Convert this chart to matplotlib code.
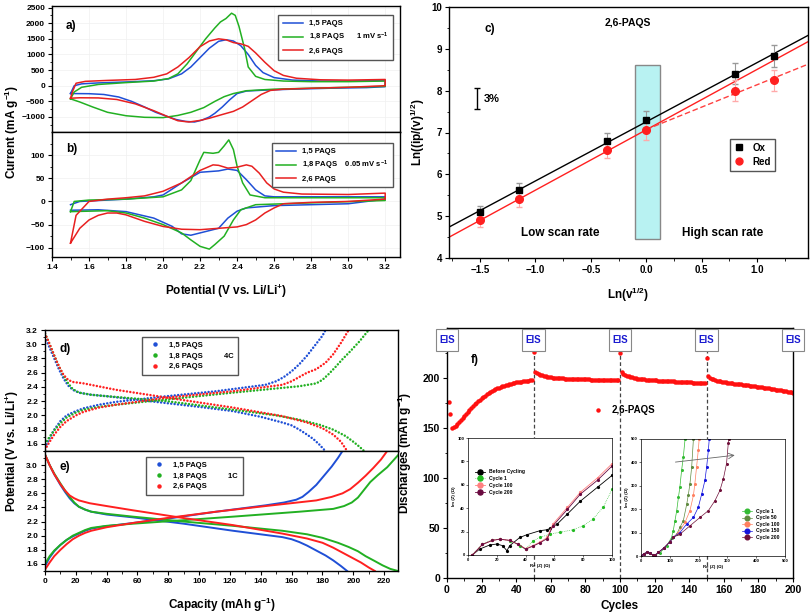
import matplotlib
matplotlib.use("Agg")
import matplotlib.pyplot as plt
import numpy as np
from matplotlib.patches import Rectangle
from matplotlib.lines import Line2D

plt.rcParams['font.family'] = ['Liberation Sans', 'DejaVu Sans']
plt.rcParams['font.weight'] = 'bold'
plt.rcParams['axes.labelweight'] = 'bold'
plt.rcParams['mathtext.fontset'] = 'custom'
plt.rcParams['mathtext.rm'] = 'Liberation Sans:bold'
plt.rcParams['mathtext.bf'] = 'Liberation Sans:bold'
plt.rcParams['mathtext.it'] = 'Liberation Sans:bold:italic'
plt.rcParams['xtick.direction'] = 'out'
plt.rcParams['ytick.direction'] = 'out'

# ---- a) CV 1 mV/s ----
a15_v = [1.50,1.52,1.56,1.65,1.80,1.95,2.03,2.10,2.15,2.20,2.25,2.30,2.34,2.38,2.42,2.46,2.50,2.54,2.60,2.70,2.85,3.00,3.15,3.20,
         3.20,3.10,2.90,2.70,2.55,2.45,2.40,2.36,2.32,2.28,2.25,2.21,2.17,2.12,2.07,2.03,1.96,1.90,1.83,1.76,1.68,1.60,1.50]
a15_i = [-250,0,60,90,120,160,220,380,600,900,1200,1420,1470,1430,1280,1000,650,420,260,180,150,150,160,170,
         -30,-60,-80,-110,-140,-170,-250,-450,-680,-880,-1000,-1100,-1160,-1140,-1080,-1000,-850,-680,-500,-360,-280,-255,-250]
a18_v = [1.50,1.52,1.56,1.65,1.80,1.95,2.03,2.08,2.13,2.18,2.23,2.28,2.31,2.34,2.37,2.39,2.41,2.44,2.46,2.50,2.55,2.65,2.80,3.00,3.20,
         3.20,3.00,2.80,2.60,2.45,2.38,2.33,2.28,2.22,2.15,2.08,2.00,1.90,1.80,1.70,1.62,1.55,1.50]
a18_i = [-420,-200,-50,40,100,150,230,380,700,1100,1500,1850,2040,2150,2320,2250,1900,1200,600,300,200,150,130,130,150,
         -20,-50,-80,-110,-160,-250,-350,-500,-700,-850,-950,-1020,-1010,-960,-850,-680,-520,-420]
a26_v = [1.50,1.51,1.53,1.58,1.70,1.85,1.95,2.02,2.08,2.14,2.20,2.25,2.30,2.34,2.38,2.42,2.46,2.50,2.55,2.60,2.65,2.72,2.85,3.00,3.20,
         3.20,3.00,2.80,2.65,2.58,2.53,2.48,2.43,2.38,2.32,2.25,2.20,2.14,2.08,2.03,1.95,1.85,1.75,1.65,1.55,1.50]
a26_i = [-400,-200,80,140,170,200,270,380,600,900,1250,1430,1500,1470,1380,1340,1260,1050,750,480,330,240,190,180,200,
         0,-50,-80,-110,-150,-280,-480,-680,-820,-920,-1040,-1110,-1160,-1120,-1000,-800,-580,-440,-390,-385,-400]

# ---- b) CV 0.05 mV/s ----
b15_v = [1.50,1.55,1.70,1.80,1.95,2.00,2.10,2.20,2.30,2.35,2.40,2.45,2.50,2.55,2.60,2.80,3.00,3.20,
         3.20,3.00,2.80,2.60,2.45,2.40,2.35,2.30,2.25,2.15,2.10,2.05,1.95,1.80,1.65,1.50]
b15_i = [-7,0,3,5,10,14,40,63,66,70,67,47,25,12,10,10,10,10,
         5,-5,-7,-9,-14,-21,-36,-58,-63,-73,-70,-54,-36,-22,-18,-19]
b18_v = [1.50,1.52,1.60,1.80,2.00,2.10,2.15,2.20,2.22,2.27,2.30,2.33,2.355,2.38,2.40,2.43,2.47,2.55,2.80,3.20,
         3.20,2.80,2.50,2.42,2.38,2.33,2.28,2.25,2.20,2.15,2.10,2.00,1.90,1.80,1.70,1.50]
b18_i = [-22,0,3,5,10,25,45,90,106,104,106,120,133,112,76,40,14,8,8,8,
         2,-3,-7,-18,-40,-75,-93,-103,-97,-83,-68,-50,-36,-25,-20,-22]
b26_v = [1.50,1.53,1.60,1.70,1.80,1.90,2.00,2.10,2.20,2.27,2.30,2.35,2.40,2.45,2.48,2.52,2.56,2.60,2.65,2.75,3.00,3.20,
         3.20,3.00,2.80,2.65,2.60,2.55,2.50,2.45,2.40,2.30,2.20,2.10,2.00,1.90,1.80,1.75,1.70,1.65,1.60,1.55,1.50]
b26_i = [-90,-30,0,5,8,12,22,40,67,79,78,72,74,79,76,61,40,27,20,16,15,18,
         5,0,-2,-5,-14,-25,-40,-50,-55,-58,-61,-60,-54,-43,-29,-25,-25,-30,-40,-58,-90]

# ---- c) ln plot ----
c_x = [-1.5, -1.15, -0.35, 0.0, 0.8, 1.15]
c_ox = [5.1, 5.62, 6.8, 7.3, 8.4, 8.83]
c_ox_err = [0.15, 0.17, 0.2, 0.22, 0.25, 0.27]
c_red = [4.9, 5.4, 6.58, 7.05, 8.0, 8.25]
c_red_err = [0.15, 0.17, 0.2, 0.22, 0.25, 0.25]

# ---- d) 4C charge / discharge ----
d15_dis_c = [0,3,6,9,12,15,18,22,30,40,68,100,122,140,154,160,165,170,174,178,181]
d15_dis_v = [3.10,2.95,2.80,2.65,2.52,2.42,2.36,2.32,2.29,2.27,2.20,2.12,2.06,1.98,1.90,1.86,1.80,1.73,1.67,1.59,1.52]
d15_ch_c = [0,3,6,10,14,20,25,35,46,79,111,143,150,155,160,165,170,175,180,182]
d15_ch_v = [1.55,1.68,1.80,1.92,2.00,2.06,2.10,2.15,2.19,2.27,2.34,2.43,2.48,2.54,2.62,2.72,2.84,2.98,3.12,3.20]
d18_dis_c = [0,3,6,9,12,15,18,22,30,40,79,122,150,165,178,187,195,200,204,207]
d18_dis_v = [3.15,3.00,2.84,2.69,2.56,2.45,2.37,2.32,2.29,2.27,2.20,2.08,2.00,1.94,1.87,1.80,1.71,1.63,1.56,1.50]
d18_ch_c = [0,3,6,10,14,20,25,35,46,68,122,165,176,180,184,188,193,198,204,210]
d18_ch_v = [1.60,1.70,1.79,1.89,1.97,2.04,2.08,2.12,2.15,2.20,2.32,2.41,2.45,2.50,2.58,2.67,2.79,2.90,3.04,3.20]
d26_dis_c = [0,3,6,9,12,15,18,25,46,79,122,154,170,180,187,192,196]
d26_dis_v = [3.15,3.00,2.84,2.69,2.57,2.50,2.47,2.45,2.36,2.25,2.11,1.99,1.90,1.82,1.73,1.63,1.50]
d26_ch_c = [0,3,6,10,14,20,25,35,46,79,122,154,160,165,170,176,182,187,192,197]
d26_ch_v = [1.52,1.63,1.73,1.84,1.92,2.00,2.05,2.11,2.15,2.25,2.34,2.43,2.48,2.54,2.60,2.65,2.74,2.86,3.02,3.20]

# ---- e) 1C charge / discharge ----
e15_dis_c = [0,3,6,10,13,16,19,22,26,30,40,57,90,122,154,160,165,170,176,182,187,192,196]
e15_dis_v = [3.15,3.00,2.87,2.72,2.62,2.53,2.46,2.41,2.37,2.34,2.30,2.26,2.17,2.07,1.98,1.95,1.91,1.86,1.79,1.72,1.65,1.57,1.50]
e15_ch_c = [0,3,6,10,14,18,22,26,30,38,46,79,111,143,155,163,167,171,176,181,186,190,193]
e15_ch_v = [1.57,1.69,1.78,1.87,1.94,1.99,2.03,2.07,2.10,2.13,2.15,2.24,2.34,2.43,2.47,2.51,2.55,2.62,2.72,2.85,2.98,3.10,3.20]
e18_dis_c = [0,3,6,10,13,16,19,22,26,30,40,57,90,122,154,170,180,190,197,203,208,214,219,224,229]
e18_dis_v = [3.15,3.00,2.88,2.74,2.64,2.55,2.47,2.41,2.37,2.34,2.31,2.27,2.20,2.14,2.07,2.02,1.97,1.90,1.84,1.78,1.71,1.64,1.58,1.53,1.50]
e18_ch_c = [0,3,6,10,14,18,22,26,30,40,57,90,122,165,187,194,199,203,207,211,216,222,229]
e18_ch_v = [1.60,1.71,1.79,1.87,1.94,2.00,2.04,2.08,2.11,2.14,2.17,2.22,2.27,2.34,2.38,2.42,2.47,2.54,2.65,2.76,2.86,2.97,3.14]
e26_dis_c = [0,3,6,10,13,16,19,22,29,40,57,90,122,154,170,180,187,193,199,205,210,214]
e26_dis_v = [3.15,3.00,2.87,2.73,2.64,2.57,2.53,2.50,2.46,2.42,2.36,2.25,2.15,2.03,1.96,1.90,1.83,1.76,1.69,1.62,1.55,1.50]
e26_ch_c = [0,3,6,10,14,18,22,26,30,40,57,79,111,143,176,186,193,198,203,208,213,218,222]
e26_ch_v = [1.52,1.62,1.71,1.80,1.88,1.95,2.00,2.04,2.07,2.12,2.18,2.25,2.34,2.42,2.50,2.55,2.60,2.66,2.75,2.85,2.96,3.08,3.20]

# ---- f) cycling ----
f_cycles = list(range(1, 201))
f_dis = [176,164,150,151,152.5,154,156,158,160,162,164.5,166.5,168.5,170.5,172.5,174,175.5,177,178.5,180,
         181.5,182.5,184,185,186,187,188,189,189.8,190.5,191.2,191.8,192.4,193,193.5,194,194.4,194.8,195.2,195.6,
         196,196.2,196.5,196.8,197,197.2,197.4,197.6,197.8,
         226,206.5,205,204,203.2,202.6,202,201.6,201.2,200.9,200.6,
         200.4,200.2,200,199.9,199.8,199.7,199.6,199.5,199.4,199.3,
         199.2,199.1,199,199,198.9,198.9,198.8,198.8,198.7,198.7,
         198.6,198.6,198.5,198.5,198.5,198.4,198.4,198.4,198.3,198.3,
         198.3,198.2,198.2,198.2,198.1,198.1,198.1,198,198,
         225,206,204.5,203.3,202.4,201.7,201.1,200.6,200.2,199.8,199.5,
         199.2,199,198.8,198.6,198.4,198.2,198,197.9,197.8,197.7,
         197.6,197.5,197.4,197.3,197.2,197.1,197,196.9,196.8,196.7,
         196.6,196.5,196.4,196.3,196.2,196.1,196,195.9,195.8,195.7,
         195.6,195.5,195.4,195.3,195.2,195.1,195,194.9,194.8,
         220,202,200.5,199.5,198.7,198,197.5,197,196.6,196.2,195.9,
         195.6,195.3,195,194.8,194.6,194.4,194.2,194,193.8,193.6,
         193.4,193.2,193,192.8,192.5,192.3,192,191.8,191.5,191.3,
         191,190.8,190.5,190.2,190,189.7,189.4,189.1,188.8,188.5,
         188.2,187.9,187.6,187.3,187,186.7,186.4,186.1,185.8,185.5]
eis_cycles = [0, 50, 100, 150, 200]

# left inset Nyquist
nl_before_x = [3,8,15,20,24,27,29,36,41,50,55,57,62,69,78,90,100]
nl_before_y = [0,5,8.5,9.4,8,3.7,8,15,17.4,20.8,21.6,22.8,26.5,35,46,58,68]
nl_c1_x = [3,10,17,22,29,36,40,45,50,57,64,73,80,87,94,100]
nl_c1_y = [0,9.4,13,13.7,12.3,8,5,12,15,18,19.4,21.6,25,31,41,56]
nl_c100_x = [3,10,17,22,29,35,40,45,50,55,59,69,78,90,100]
nl_c100_y = [0,9,12.5,13.5,12.5,9,5.5,8,11,15,26.5,40.7,53.6,66,78]
nl_c200_x = [3,10,17,22,29,35,40,45,50,55,59,69,78,90,100]
nl_c200_y = [0,9,12.5,13.5,12.5,9,5,7.5,10.5,14,25,39,52,64,76]

# right inset Nyquist
nr_c1_x = [0,10,20,30,40,50,66,89,106,112,118,124,130,135,141,147,153]
nr_c1_y = [0,10,15,12,6,5,14,43,79,108,151,194,251,295,366,424,500]
nr_c50_x = [0,10,20,30,40,50,60,80,100,112,124,135,147,159,164,170,176,182]
nr_c50_y = [0,10,15,12,6,5,15,35,60,80,93,122,151,223,259,309,381,500]
nr_c100_x = [0,10,20,30,40,50,60,80,100,112,130,153,170,182,187,193,199,202]
nr_c100_y = [0,10,15,12,6,5,15,35,60,80,100,144,194,259,309,381,453,500]
nr_c150_x = [0,10,20,30,40,50,60,80,100,112,135,159,182,199,211,222,228,234,237]
nr_c150_y = [0,10,15,12,6,5,15,35,60,80,100,137,165,208,266,323,381,453,500]
nr_c200_x = [0,10,20,30,40,50,60,80,100,112,135,170,205,234,257,274,286,297,303,305]
nr_c200_y = [0,10,15,12,6,5,15,35,60,80,93,129,165,194,237,280,330,395,481,500]

blue = '#1f4fd6'
green = '#22b022'
red = '#e82020'

fig = plt.figure(figsize=(8.1, 6.14), dpi=100)
W, H = 810.0, 614.0


def box(l, t, r, b):
    return [l / W, 1 - b / H, (r - l) / W, (b - t) / H]


def style(ax, tsize):
    for s in ax.spines.values():
        s.set_linewidth(1.0)
    ax.tick_params(which='major', length=3, width=0.8, labelsize=tsize, pad=2)
    ax.tick_params(which='minor', length=1.8, width=0.6)


leg_kw = dict(frameon=True, fancybox=False, edgecolor='#555555', framealpha=1,
              prop={'weight': 'bold', 'size': 5.5}, borderpad=0.6, labelspacing=0.45)

# ---------- a ----------
ax_a = fig.add_axes(box(52, 6, 400, 132))
ax_a.plot(a15_v, a15_i, color=blue, lw=1.1, label='1,5 PAQS')
ax_a.plot(a18_v, a18_i, color=green, lw=1.1, label='1,8 PAQS      1 mV s$^{-1}$')
ax_a.plot(a26_v, a26_i, color=red, lw=1.1, label='2,6 PAQS')
ax_a.set_xlim(1.4, 3.28)
ax_a.set_ylim(-1480, 2550)
ax_a.set_yticks(np.arange(-1000, 2501, 500))
ax_a.set_yticks(np.arange(-1250, 2501, 250), minor=True)
ax_a.set_xticks(np.arange(1.4, 3.25, 0.2))
ax_a.set_xticks(np.arange(1.4, 3.3, 0.1), minor=True)
ax_a.grid(True, color='#f0f0f0', lw=0.5)
style(ax_a, 6)
ax_a.tick_params(labelbottom=False)
ax_a.legend(loc='upper right', bbox_to_anchor=(0.991, 0.955), handlelength=2.6, **leg_kw)
ax_a.text(0.04, 0.82, 'a)', transform=ax_a.transAxes, fontsize=8.5)

# ---------- b ----------
ax_b = fig.add_axes(box(52, 132, 400, 257))
ax_b.plot(b15_v, b15_i, color=blue, lw=1.1, label='1,5 PAQS')
ax_b.plot(b18_v, b18_i, color=green, lw=1.1, label='1,8 PAQS    0.05 mV s$^{-1}$')
ax_b.plot(b26_v, b26_i, color=red, lw=1.1, label='2,6 PAQS')
ax_b.set_xlim(1.4, 3.28)
ax_b.set_ylim(-120, 150)
ax_b.set_yticks(np.arange(-100, 101, 50))
ax_b.set_yticks(np.arange(-100, 150, 25), minor=True)
ax_b.set_xticks(np.arange(1.4, 3.25, 0.2))
ax_b.set_xticks(np.arange(1.4, 3.3, 0.1), minor=True)
ax_b.grid(True, color='#f0f0f0', lw=0.5)
style(ax_b, 6)
ax_b.legend(loc='upper right', bbox_to_anchor=(0.991, 0.94), handlelength=2.6, **leg_kw)
ax_b.text(0.04, 0.84, 'b)', transform=ax_b.transAxes, fontsize=8.5)
ax_b.set_xlabel('Potential (V vs. Li/Li$^{+}$)', fontsize=8.5, labelpad=8)
fig.text(12 / W, 1 - 132 / H, 'Current (mA g$^{-1}$)', rotation=90, fontsize=8.5,
         ha='center', va='center')

# ---------- c ----------
ax_c = fig.add_axes(box(449, 7, 808, 258))
xx = np.array([-1.78, 1.46])
p_ox = np.polyfit(c_x, c_ox, 1)
p_red = np.polyfit(c_x[:4], c_red[:4], 1)
p_hi = np.polyfit(c_x[3:], c_red[3:], 1)
ax_c.add_patch(Rectangle((-0.1, 4.45), 0.22, 4.17, facecolor='#b8f2f2', edgecolor='#888888', lw=1, zorder=1))
ax_c.plot(xx, np.polyval(p_ox, xx), color='black', lw=1, zorder=2)
ax_c.plot(xx, np.polyval(p_red, xx), color='#ff2020', lw=1, zorder=2)
xh = np.array([0.0, 1.46])
ax_c.plot(xh, np.polyval(p_hi, xh), color='#ff4040', lw=1, ls=(0, (4, 2)), zorder=2)
ax_c.errorbar(c_x, c_ox, yerr=c_ox_err, fmt='s', color='black', ms=5, ecolor='#999999',
              elinewidth=0.8, capsize=2.5, zorder=3, label='Ox')
ax_c.errorbar(c_x, c_red, yerr=c_red_err, fmt='o', color='#ff2020', ms=5.5, ecolor='#ffaaaa',
              elinewidth=0.8, capsize=2.5, zorder=3, label='Red')
ax_c.set_xlim(-1.78, 1.46)
ax_c.set_ylim(4, 10)
ax_c.set_xticks([-1.5, -1.0, -0.5, 0.0, 0.5, 1.0])
ax_c.set_xticks(np.arange(-1.75, 1.5, 0.25), minor=True)
ax_c.set_yticks(np.arange(4, 10.1, 1))
ax_c.set_yticks(np.arange(4, 10.1, 0.5), minor=True)
style(ax_c, 7)
ax_c.set_xlabel('Ln(v$^{1/2}$)', fontsize=8.5, labelpad=8)
ax_c.set_ylabel('Ln((ip/(v)$^{1/2}$)', fontsize=8.5, labelpad=3)
ax_c.text(-0.17, 9.62, '2,6-PAQS', fontsize=7.5, ha='center', va='center')
ax_c.text(0.1, 0.9, 'c)', transform=ax_c.transAxes, fontsize=8.5)
ax_c.errorbar([-1.53], [7.81], yerr=[0.25], color='black', capsize=2.5, elinewidth=1)
ax_c.text(-1.47, 7.81, '3%', fontsize=8, va='center')
ax_c.text(-0.78, 4.6, 'Low scan rate', fontsize=8.5, ha='center', va='center')
ax_c.text(0.69, 4.6, 'High scan rate', fontsize=8.5, ha='center', va='center')
hc = [Line2D([], [], marker='s', color='black', ls='none', ms=4.5),
      Line2D([], [], marker='o', color='#ff2020', ls='none', ms=5)]
ax_c.legend(hc, ['Ox', 'Red'], loc='upper right', bbox_to_anchor=(0.922, 0.494), frameon=True,
            fancybox=False, edgecolor='#555555', framealpha=1, prop={'weight': 'bold', 'size': 7},
            handlelength=1.2, borderpad=0.4, labelspacing=0.4)

# ---------- d ----------
dot = dict(lw=1.8, ls=(0, (0.01, 1.35)), dash_capstyle='round')
ax_d = fig.add_axes(box(45, 330, 398, 451))
ax_d.plot(d15_dis_c, d15_dis_v, color=blue, **dot)
ax_d.plot(d15_ch_c, d15_ch_v, color=blue, **dot)
ax_d.plot(d18_dis_c, d18_dis_v, color=green, **dot)
ax_d.plot(d18_ch_c, d18_ch_v, color=green, **dot)
ax_d.plot(d26_dis_c, d26_dis_v, color='#ff2020', **dot)
ax_d.plot(d26_ch_c, d26_ch_v, color='#ff2020', **dot)
ax_d.set_xlim(0, 229)
ax_d.set_ylim(1.5, 3.2)
ax_d.set_yticks(np.arange(1.6, 3.21, 0.2))
ax_d.set_yticks(np.arange(1.5, 3.21, 0.1), minor=True)
ax_d.set_xticks(np.arange(0, 229, 20))
ax_d.set_xticks(np.arange(0, 229, 10), minor=True)
style(ax_d, 6)
ax_d.tick_params(labelbottom=False)
hd = [Line2D([], [], marker='o', color=c, ls='none', ms=2.2) for c in [blue, green, '#ff2020']]
ax_d.legend(hd, ['1,5 PAQS', '1,8 PAQS          4C', '2,6 PAQS'], loc='upper left',
            bbox_to_anchor=(0.263, 0.975), handlelength=2.2, **leg_kw)
ax_d.text(0.04, 0.82, 'd)', transform=ax_d.transAxes, fontsize=8.5)

# ---------- e ----------
ax_e = fig.add_axes(box(45, 451, 398, 571))
ax_e.plot(e15_dis_c, e15_dis_v, color=blue, lw=1.4)
ax_e.plot(e15_ch_c, e15_ch_v, color=blue, lw=1.4)
ax_e.plot(e18_dis_c, e18_dis_v, color=green, lw=1.4)
ax_e.plot(e18_ch_c, e18_ch_v, color=green, lw=1.4)
ax_e.plot(e26_dis_c, e26_dis_v, color='#ff2020', lw=1.4)
ax_e.plot(e26_ch_c, e26_ch_v, color='#ff2020', lw=1.4)
ax_e.set_xlim(0, 229)
ax_e.set_ylim(1.5, 3.2)
ax_e.set_yticks(np.arange(1.6, 3.01, 0.2))
ax_e.set_yticks(np.arange(1.5, 3.21, 0.1), minor=True)
ax_e.set_xticks(np.arange(0, 229, 20))
ax_e.set_xticks(np.arange(0, 229, 10), minor=True)
style(ax_e, 6)
ax_e.legend(hd, ['1,5 PAQS', '1,8 PAQS          1C', '2,6 PAQS'], loc='upper left',
            bbox_to_anchor=(0.275, 0.983), handlelength=2.2, **leg_kw)
ax_e.text(0.04, 0.84, 'e)', transform=ax_e.transAxes, fontsize=8.5)
ax_e.set_xlabel('Capacity (mAh g$^{-1}$)', fontsize=8.5, labelpad=8)
fig.text(12 / W, 1 - 451 / H, 'Potential (V vs. Li/Li$^{+}$)', rotation=90, fontsize=8.5,
         ha='center', va='center')

# ---------- f ----------
ax_f = fig.add_axes(box(447, 328, 793, 578))
for c in eis_cycles[1:4]:
    ax_f.axvline(c, color='#444444', lw=0.9, ls=(0, (3, 2)), zorder=1)
ax_f.plot(f_cycles, f_dis, 'o', color='#ff1010', ms=3.2, mec='none', zorder=2)
ax_f.set_xlim(0, 200)
ax_f.set_ylim(0, 250)
ax_f.set_yticks([0, 50, 100, 150, 200])
ax_f.set_yticks(np.arange(0, 250, 25), minor=True)
ax_f.set_xticks(np.arange(0, 201, 20))
ax_f.set_xticks(np.arange(0, 201, 10), minor=True)
style(ax_f, 7.5)
ax_f.set_xlabel('Cycles', fontsize=8.5, labelpad=4)
ax_f.set_ylabel('Discharges (mAh g$^{-1}$)', fontsize=8.5, labelpad=6)
for c in eis_cycles:
    ax_f.add_patch(Rectangle((c - 6.5, 0.91), 13, 0.088, transform=ax_f.get_xaxis_transform(),
                             facecolor='white', edgecolor='#888888', lw=0.8, clip_on=False, zorder=5))
    ax_f.text(c, 0.953, 'EIS', transform=ax_f.get_xaxis_transform(), color='#1a1ad0', fontsize=7,
              ha='center', va='center', zorder=6)
ax_f.text(0.07, 0.86, 'f)', transform=ax_f.transAxes, fontsize=8.5)
ax_f.plot([87], [168], 'o', color='#ff1010', ms=3.2, mec='none')
ax_f.text(95, 168, '2,6-PAQS', fontsize=7, va='center')

# left inset
ins1 = fig.add_axes(box(468, 438, 612, 555))
ins1.plot(nl_before_x, nl_before_y, '-o', color='black', ms=1.3, lw=0.6, label='Before Cycling')
ins1.plot(nl_c1_x, nl_c1_y, '-o', color='#22bb22', ms=1.3, lw=0.5, ls=':', label='Cycle 1')
ins1.plot(nl_c100_x, nl_c100_y, '-o', color='#ff8080', ms=1.3, lw=0.6, label='Cycle 100')
ins1.plot(nl_c200_x, nl_c200_y, '-o', color='#6a0a40', ms=1.3, lw=0.6, label='Cycle 200')
ins1.set_xlim(0, 100)
ins1.set_ylim(0, 100)
ins1.set_xticks(np.arange(0, 101, 20))
ins1.set_yticks(np.arange(0, 101, 20))
ins1.tick_params(labelsize=3, length=1.2, width=0.4, pad=1)
for s in ins1.spines.values():
    s.set_linewidth(0.5)
ins1.set_xlabel('Re (Z) (Ω)', fontsize=3.2, labelpad=1.5)
ins1.set_ylabel('Im (Z) (Ω)', fontsize=3.2, labelpad=1.5)
ins1.legend(loc='upper left', bbox_to_anchor=(0.02, 0.77), frameon=False,
            prop={'weight': 'bold', 'size': 3.6}, handlelength=2, markerscale=2.8, labelspacing=0.35)

# right inset
ins2 = fig.add_axes(box(641, 439, 785, 556))
ins2.plot(nr_c1_x, nr_c1_y, '-o', color='#33bb33', ms=1.2, lw=0.5, label='Cycle 1')
ins2.plot(nr_c50_x, nr_c50_y, '-o', color='#5f8a3f', ms=1.2, lw=0.5, label='Cycle 50')
ins2.plot(nr_c100_x, nr_c100_y, '-o', color='#ff8060', ms=1.2, lw=0.5, label='Cycle 100')
ins2.plot(nr_c150_x, nr_c150_y, '-o', color='#1515dd', ms=1.2, lw=0.5, label='Cycle 150')
ins2.plot(nr_c200_x, nr_c200_y, '-o', color='#70103a', ms=1.2, lw=0.5, label='Cycle 200')
ins2.annotate('', xy=(335, 432), xytext=(110, 400),
              arrowprops=dict(arrowstyle='->', color='#666666', lw=0.6))
ins2.set_xlim(0, 500)
ins2.set_ylim(0, 500)
ins2.set_xticks(np.arange(0, 501, 100))
ins2.set_yticks(np.arange(0, 501, 100))
ins2.tick_params(labelsize=3, length=1.2, width=0.4, pad=1)
for s in ins2.spines.values():
    s.set_linewidth(0.5)
ins2.set_xlabel('Re (Z) (Ω)', fontsize=3.2, labelpad=1.5)
ins2.set_ylabel('Im (Z) (Ω)', fontsize=3.2, labelpad=1.5)
ins2.legend(loc='lower right', bbox_to_anchor=(0.99, 0.1), frameon=False,
            prop={'weight': 'bold', 'size': 3.6}, handlelength=2, markerscale=2.8, labelspacing=0.3)

fig.savefig('out.png', dpi=100)
